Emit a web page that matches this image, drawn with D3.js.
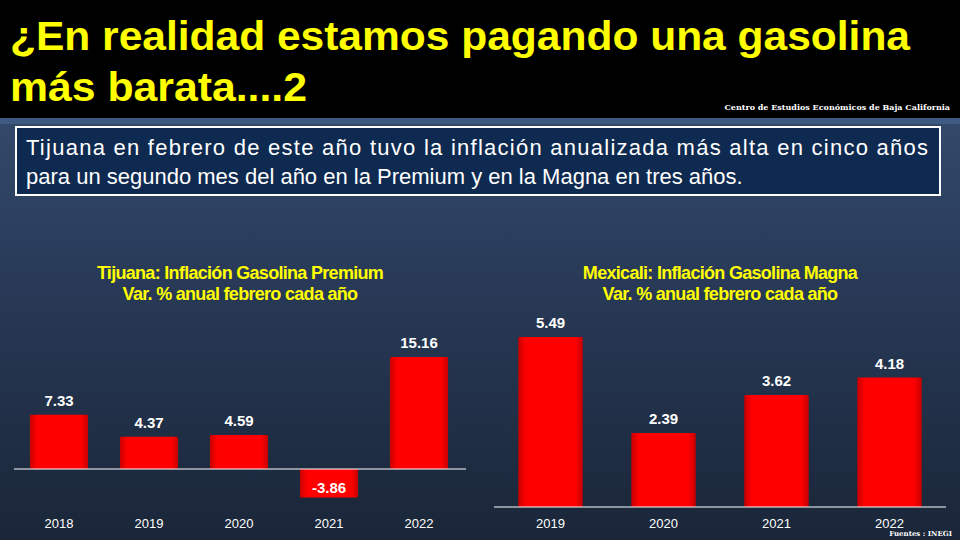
<!DOCTYPE html>
<html><head><meta charset="utf-8">
<script src="https://cdn.jsdelivr.net/npm/d3@7"></script>
<style>body{margin:0;background:#000}svg{display:block}</style>
</head><body><div id="chart"></div>
<script>
var leftYears = ['2018', '2019', '2020', '2021', '2022'];
var leftValues = [7.33, 4.37, 4.59, -3.86, 15.16];
var rightYears = ['2019', '2020', '2021', '2022'];
var rightValues = [5.49, 2.39, 3.62, 4.18];

var svg = d3.select('#chart').append('svg').attr('width', 960).attr('height', 540);
var defs = svg.append('defs');
var bg = defs.append('linearGradient').attr('id', 'bg').attr('x1', 0).attr('y1', 0).attr('x2', 0).attr('y2', 1);
bg.append('stop').attr('offset', '0').attr('stop-color', '#3d5576');
bg.append('stop').attr('offset', '0.45').attr('stop-color', '#2a3d5c');
bg.append('stop').attr('offset', '1').attr('stop-color', '#1a2638');
var bar = defs.append('linearGradient').attr('id', 'bar').attr('x1', 0).attr('y1', 0).attr('x2', 1).attr('y2', 0);
bar.append('stop').attr('offset', '0').attr('stop-color', '#c80000');
bar.append('stop').attr('offset', '0.12').attr('stop-color', '#ff0000');
bar.append('stop').attr('offset', '0.88').attr('stop-color', '#ff0000');
bar.append('stop').attr('offset', '1').attr('stop-color', '#c80000');

svg.append('rect').attr('width', 960).attr('height', 540).attr('fill', 'url(#bg)');
svg.append('rect').attr('width', 960).attr('height', 120).attr('fill', '#000');
svg.append('rect').attr('y', 118).attr('width', 960).attr('height', 6).attr('fill', '#3f5a80');

var title = svg.append('text').attr('fill', '#ffff00').attr('font-family', 'Liberation Sans, Arial')
	.attr('font-weight', 'bold').attr('font-size', 41);
title.append('tspan').attr('x', 10).attr('y', 50).attr('textLength', 900).attr('lengthAdjust', 'spacingAndGlyphs')
	.text('¿En realidad estamos pagando una gasolina');
title.append('tspan').attr('x', 10).attr('y', 101).attr('textLength', 297).attr('lengthAdjust', 'spacingAndGlyphs')
	.text('más barata....2');
svg.append('text').attr('x', 950).attr('y', 110).attr('text-anchor', 'end').attr('fill', '#fff')
	.attr('font-family', 'DejaVu Serif, serif').attr('font-weight', 'bold').attr('font-size', 8)
	.text('Centro de Estudios  Económicos  de Baja California');

svg.append('rect').attr('x', 16).attr('y', 127).attr('width', 924).attr('height', 68)
	.attr('fill', '#0f2a50').attr('stroke', '#fff').attr('stroke-width', 2);
var box = svg.append('text').attr('fill', '#fff').attr('font-family', 'Liberation Sans, Arial').attr('font-size', 22);
box.append('tspan').attr('x', 26).attr('y', 155).attr('textLength', 902).attr('lengthAdjust', 'spacing')
	.text('Tijuana en febrero de este año tuvo la inflación anualizada más alta en cinco años');
box.append('tspan').attr('x', 26).attr('y', 184).text('para un segundo mes del año en la Premium y en la Magna en tres años.');

function drawChart(cats, vals, cfg) {
	var x = d3.scaleBand().domain(cats).range(cfg.xr).paddingInner(cfg.pad).paddingOuter(cfg.pad / 2);
	var y = d3.scaleLinear().domain(cfg.dom).range(cfg.yr);
	var g = svg.append('g');
	var t = g.append('text').attr('text-anchor', 'middle').attr('fill', '#ffff00')
		.attr('font-family', 'Liberation Sans, Arial').attr('font-weight', 'bold').attr('font-size', 18);
	t.append('tspan').attr('x', cfg.tx).attr('y', cfg.ty).attr('letter-spacing', -0.7).text(cfg.t1);
	t.append('tspan').attr('x', cfg.tx).attr('y', cfg.ty + 21).attr('letter-spacing', -0.7).text(cfg.t2);

	g.selectAll('rect.b').data(vals).enter().append('rect').attr('class', 'b')
		.attr('x', (d, i) => x(cats[i])).attr('width', x.bandwidth())
		.attr('y', d => y(Math.max(0, d))).attr('height', d => Math.abs(y(d) - y(0)))
		.attr('fill', 'url(#bar)').attr('rx', 1);
	g.append('line').attr('x1', cfg.lx[0]).attr('x2', cfg.lx[1]).attr('y1', y(0)).attr('y2', y(0))
		.attr('stroke', '#fff').attr('stroke-width', 1.2);
	g.selectAll('text.v').data(vals).enter().append('text').attr('class', 'v')
		.attr('x', (d, i) => x(cats[i]) + x.bandwidth() / 2)
		.attr('y', d => d < 0 ? y(d) - 5 : y(d) - 9)
		.attr('text-anchor', 'middle').attr('fill', '#fff').attr('font-family', 'Liberation Sans, Arial')
		.attr('font-weight', 'bold').attr('font-size', 15).text(d => d.toFixed(2));
	g.selectAll('text.c').data(cats).enter().append('text').attr('class', 'c')
		.attr('x', d => x(d) + x.bandwidth() / 2).attr('y', cfg.cy)
		.attr('text-anchor', 'middle').attr('fill', '#fff').attr('font-family', 'Liberation Sans, Arial')
		.attr('font-size', 13).text(d => d);
}

drawChart(leftYears, leftValues, {
	xr: [14, 464], pad: 0.355, dom: [0, 15.16], yr: [469, 357], lx: [14, 466], cy: 528,
	tx: 240, ty: 279, t1: 'Tijuana: Inflación Gasolina Premium', t2: 'Var. % anual febrero cada año'
});
drawChart(rightYears, rightValues, {
	xr: [494, 946], pad: 0.43, dom: [0, 5.49], yr: [507, 337], lx: [494, 946], cy: 528,
	tx: 720, ty: 279, t1: 'Mexicali: Inflación Gasolina Magna', t2: 'Var. % anual febrero cada año'
});
svg.append('text').attr('x', 952).attr('y', 536).attr('text-anchor', 'end').attr('fill', '#fff')
	.attr('font-family', 'DejaVu Serif, serif').attr('font-weight', 'bold').attr('font-size', 7)
	.text('Fuentes : INEGI');
</script></body></html>
